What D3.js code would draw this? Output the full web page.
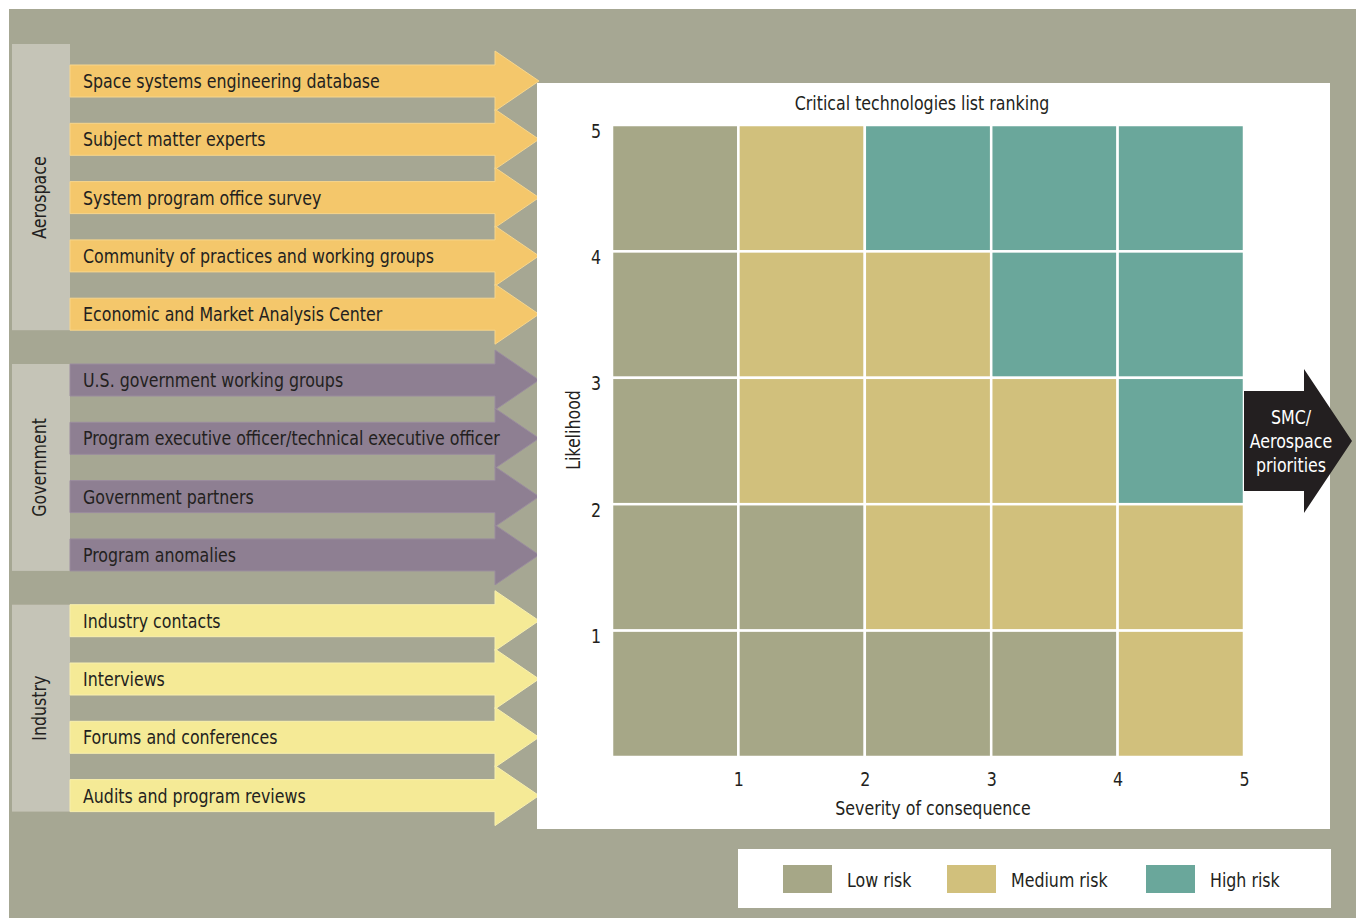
<!DOCTYPE html>
<html>
<head>
<meta charset="utf-8">
<script src="https://cdn.jsdelivr.net/npm/d3@7"></script>
<style>
  html, body { margin: 0; padding: 0; background: #ffffff; }
  svg text { font-family: "Liberation Sans Narrow", "DejaVu Sans Condensed", "Open Sans", sans-serif; fill: #231f20; }
</style>
</head>
<body>
<svg id="chart" width="1356" height="918"></svg>
<script>
// ---- data ----
const groups = ["Aerospace", "Government", "Industry"];
const aerospaceSources = [
  "Space systems engineering database",
  "Subject matter experts",
  "System program office survey",
  "Community of practices and working groups",
  "Economic and Market Analysis Center"
];
const governmentSources = [
  "U.S. government working groups",
  "Program executive officer/technical executive officer",
  "Government partners",
  "Program anomalies"
];
const industrySources = [
  "Industry contacts",
  "Interviews",
  "Forums and conferences",
  "Audits and program reviews"
];
const severityTicks = [1, 2, 3, 4, 5];
const likelihoodTicks = [1, 2, 3, 4, 5];
const riskLevels = ["Low risk", "Medium risk", "High risk"];
// risk level index per cell; rows listed from likelihood 4-5 (top) down to 0-1 (bottom),
// columns from severity 0-1 to 4-5
const riskRows = [
  [0, 1, 2, 2, 2],
  [0, 1, 1, 2, 2],
  [0, 1, 1, 1, 2],
  [0, 0, 1, 1, 1],
  [0, 0, 0, 0, 1]
];
const outputLines = ["SMC/", "Aerospace", "priorities"];

// ---- styles ----
const bgColor = "#a6a793";
const groupBoxColor = "#c5c4b7";
const groupFill = { Aerospace: "#f4c76b", Government: "#8e7f92", Industry: "#f5ea96" };
const groupEdge = { Aerospace: "#f7d68c", Government: "#9a8c9e", Industry: "#f8efae" };
const riskColor = d3.scaleOrdinal().domain([0, 1, 2]).range(["#a6a787", "#d1c07c", "#6aa79b"]);
const FS = 20;        // font size
const NARROW = 0.88;  // horizontal squeeze for a condensed look

const svg = d3.select("#chart");
svg.append("rect").attr("x", 9).attr("y", 9).attr("width", 1347).attr("height", 909).attr("fill", bgColor);

// place a condensed text label at (x, y), optionally rotated
function label(parent, x, y, str, opts = {}) {
  const rot = opts.rotate ? ` rotate(${opts.rotate})` : "";
  return parent.append("text")
    .attr("transform", `translate(${x},${y})${rot} scale(${NARROW},1)`)
    .attr("dy", "0.35em")
    .attr("text-anchor", opts.anchor || "start")
    .attr("font-size", FS)
    .style("fill", opts.fill || null)
    .text(str);
}

// ---- source arrows on the left ----
const sourceLists = [aerospaceSources, governmentSources, industrySources];
const items = [];
sourceLists.forEach((list, g) => list.forEach(name => items.push({ name, group: groups[g], g })));
const rowStep = 58.3, groupGap = 7.5, firstCenter = 81;
items.forEach((d, i) => { d.cy = firstCenter + i * rowStep + d.g * groupGap; });

const barX0 = 70, barX1 = 495, tipX = 539, barHalf = 16, headHalf = 30;

// group boxes
groups.forEach((name, g) => {
  const members = items.filter(d => d.g === g);
  const barsTop = members[0].cy - barHalf;
  const top = barsTop - (g === 0 ? 21 : 0);
  const bottom = members[members.length - 1].cy + barHalf;
  svg.append("rect").attr("x", 12).attr("y", top).attr("width", barX0 - 12).attr("height", bottom - top)
    .attr("fill", groupBoxColor);
  label(svg, 39, (barsTop + bottom) / 2, name, { rotate: -90, anchor: "middle" });
});

const arrowPath = d => {
  const p = d3.path();
  p.moveTo(barX0, d.cy - barHalf);
  p.lineTo(barX1, d.cy - barHalf);
  p.lineTo(barX1, d.cy - headHalf);
  p.lineTo(tipX, d.cy);
  p.lineTo(barX1, d.cy + headHalf);
  p.lineTo(barX1, d.cy + barHalf);
  p.lineTo(barX0, d.cy + barHalf);
  p.closePath();
  return p.toString();
};

const arrows = svg.append("g").selectAll("g").data(items).join("g");
arrows.append("path")
  .attr("d", arrowPath)
  .attr("fill", d => groupFill[d.group])
  .attr("stroke", d => groupEdge[d.group])
  .attr("stroke-width", 1);
arrows.each(function (d) { label(d3.select(this), 83, d.cy, d.name); });

// ---- risk matrix panel ----
svg.append("rect").attr("x", 537).attr("y", 83).attr("width", 793).attr("height", 746).attr("fill", "#ffffff");

const x = d3.scaleLinear().domain([0, 5]).range([612, 1244]);
const y = d3.scaleLinear().domain([0, 5]).range([757, 125]);

const cells = [];
riskRows.forEach((row, r) => row.forEach((level, c) => {
  cells.push({ sev: c, lik: riskRows.length - 1 - r, level });
}));

svg.append("g").selectAll("rect").data(cells).join("rect")
  .attr("x", d => x(d.sev))
  .attr("y", d => y(d.lik + 1))
  .attr("width", d => x(d.sev + 1) - x(d.sev))
  .attr("height", d => y(d.lik) - y(d.lik + 1))
  .attr("fill", d => riskColor(d.level))
  .attr("stroke", "#ffffff")
  .attr("stroke-width", 2.5);

const xAxis = svg.append("g").attr("transform", `translate(0,${757})`)
  .call(d3.axisBottom(x).tickValues(severityTicks).tickSize(0).tickPadding(15).tickFormat(d3.format("d")));
xAxis.select(".domain").remove();
xAxis.selectAll("text").attr("font-size", FS).attr("font-family", null).attr("fill", null)
  .attr("transform", `scale(${NARROW},1)`);

const yAxis = svg.append("g").attr("transform", `translate(${612},0)`)
  .call(d3.axisLeft(y).tickValues(likelihoodTicks).tickSize(0).tickPadding(11).tickFormat(d3.format("d")));
yAxis.select(".domain").remove();
yAxis.selectAll("text").attr("font-size", FS).attr("dy", "0.6em").attr("font-family", null).attr("fill", null)
  .attr("x", -11 / NARROW).attr("transform", `scale(${NARROW},1)`);

label(svg, 922, 103, "Critical technologies list ranking", { anchor: "middle" });
label(svg, 933, 808, "Severity of consequence", { anchor: "middle" });
label(svg, 573, 430, "Likelihood", { rotate: -90, anchor: "middle" });

// ---- output arrow ----
const outCy = (y(2) + y(3)) / 2;
const out = d3.path();
out.moveTo(1244, outCy - 50);
out.lineTo(1304, outCy - 50);
out.lineTo(1304, outCy - 72);
out.lineTo(1352, outCy);
out.lineTo(1304, outCy + 72);
out.lineTo(1304, outCy + 50);
out.lineTo(1244, outCy + 50);
out.closePath();
svg.append("path").attr("d", out.toString()).attr("fill", "#231f20");
const outText = svg.append("g");
outputLines.forEach((line, i) => label(outText, 1291, outCy - 24 + i * 24, line, { anchor: "middle", fill: "#ffffff" }));

// ---- legend ----
svg.append("rect").attr("x", 738).attr("y", 849).attr("width", 593).attr("height", 59).attr("fill", "#ffffff");
const legendX = [783, 947, 1146];
const legend = svg.append("g").selectAll("g").data(riskLevels).join("g")
  .attr("transform", (d, i) => `translate(${legendX[i]},${865})`);
legend.append("rect").attr("width", 49).attr("height", 28).attr("fill", (d, i) => riskColor(i));
legend.each(function (d) { label(d3.select(this), 64, 15, d); });
</script>
</body>
</html>
